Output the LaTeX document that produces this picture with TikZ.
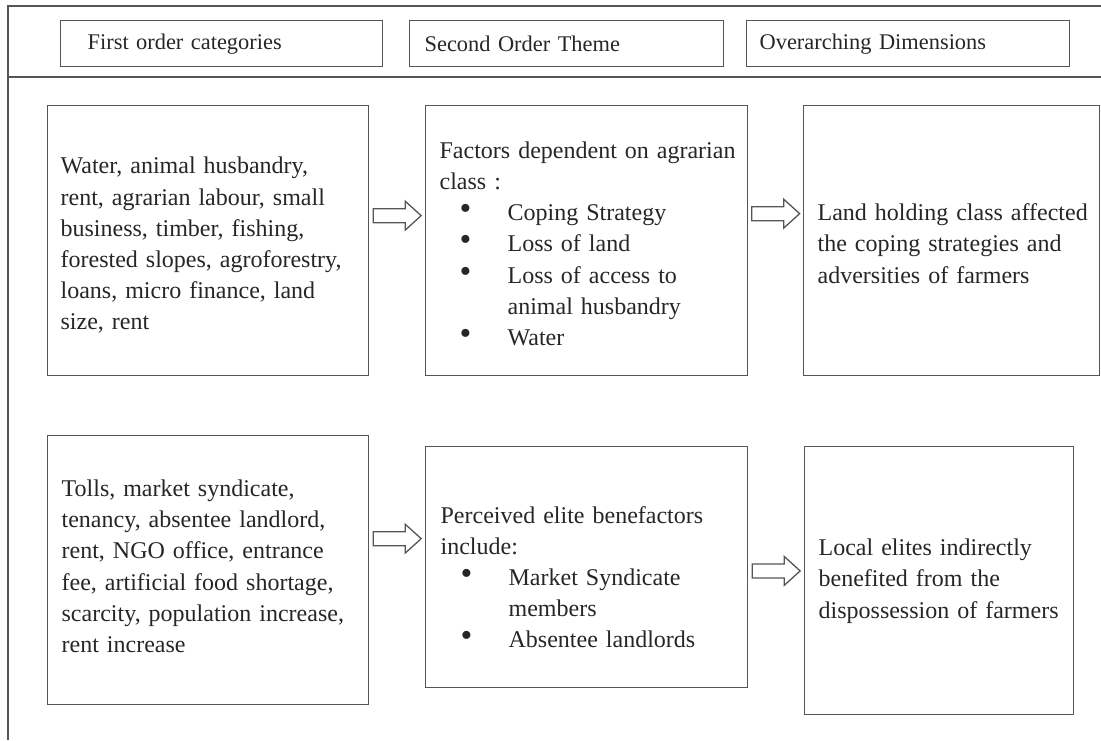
\documentclass[tikz,border=0pt]{standalone}
\usepackage{fontspec}
\usepackage{graphicx}
\setmainfont{Liberation Serif}
\usetikzlibrary{positioning,calc}

\definecolor{framegray}{HTML}{555555}
\definecolor{inkgray}{HTML}{262626}

\newcommand{\bodyfont}{\fontsize{24}{31.2}\selectfont}
\newcommand{\headfont}{\fontsize{22.4}{27}\selectfont}
% one bullet item, and the text block of a box (optionally moved up or down)
\newcommand{\itm}[1]{\hspace*{20pt}\makebox[48pt][l]{\raisebox{1pt}{\scalebox{1.4}{\textbullet}}}#1}
\newcommand{\lines}[2][0pt]{\raisebox{#1}[\height][\depth]{\begin{tabular}{@{}l@{}}#2\end{tabular}}}

\tikzset{
  frame/.style={draw=framegray, line width=1.3pt},
  cell/.style={frame, anchor=north west, align=left, inner ysep=0pt,
    text=inkgray, font=\bodyfont},
  headbox/.style={cell, minimum height=46, font=\headfont},
  hollow arrow/.pic={
    \draw[frame, fill=white, line join=miter]
      (-24,-7) -- (8,-7) -- (8,-14.5) -- (24,0) -- (8,14.5) -- (8,7) -- (-24,7) -- cycle;
  }
}

\begin{document}
\begin{tikzpicture}[x=1pt,y=-1pt]
  \useasboundingbox (0,0) rectangle (1101,740);

  % outer frame and header rule
  \draw[frame] (1101,6) -| (8,740);
  \draw[frame] (8,77) -- (1101,77);

  % column headings
  \node[headbox, minimum width=322, inner xsep=27, text width=268] (hfirst) at (60,20) {First order categories};
  \node[headbox, minimum width=314, inner xsep=15, text width=284] (hsecond) at (409,20) {Second Order Theme};
  \node[headbox, minimum width=323, inner xsep=13, text width=297] (hdims) at (746,20) {Overarching Dimensions};

  % first row
  \node[cell, minimum width=321, minimum height=270, inner xsep=13, text width=295] (water) at (47,105)
    {\lines[-5pt]{Water, animal husbandry,\\ rent, agrarian labour, small\\ business, timber, fishing,\\ forested slopes, agroforestry,\\ loans, micro finance, land\\ size, rent}};
  \node[cell, minimum width=322, minimum height=270, inner xsep=14, text width=294] (factors) at (425,105)
    {\lines[-5pt]{Factors dependent on agrarian\\ class :\\ \itm{Coping Strategy}\\ \itm{Loss of land}\\ \itm{Loss of access to}\\ \hspace*{68pt}animal husbandry\\ \itm{Water}}};
  \node[cell, minimum width=296, minimum height=270, inner xsep=14, text width=268] (landclass) at (803,105)
    {\lines[-5pt]{Land holding class affected\\ the coping strategies and\\ adversities of farmers}};

  % second row
  \node[cell, minimum width=321, minimum height=269, inner xsep=14, text width=293] (tolls) at (47,435)
    {\lines[2pt]{Tolls, market syndicate,\\ tenancy, absentee landlord,\\ rent, NGO office, entrance\\ fee, artificial food shortage,\\ scarcity, population increase,\\ rent increase}};
  \node[cell, minimum width=322, minimum height=241, inner xsep=15, text width=292] (benefactors) at (425,446)
    {\lines[-12pt]{Perceived elite benefactors\\ include:\\ \itm{Market Syndicate}\\ \hspace*{68pt}members\\ \itm{Absentee landlords}}};
  \node[cell, minimum width=269, minimum height=268, inner xsep=14, text width=241] (localelites) at (804,446)
    {\lines{Local elites indirectly\\ benefited from the\\ dispossession of farmers}};

  % arrows between the boxes
  \pic at ($(water.east)!.5!(factors.west)+(0,-25)$) {hollow arrow};
  \pic at ($(factors.east)!.5!(landclass.west)+(0,-27)$) {hollow arrow};
  \pic at ($(tolls.east)!.5!(benefactors.west)+(0,-30)$) {hollow arrow};
  \pic at ($(benefactors.east)!.5!(localelites.west)+(0,-3)$) {hollow arrow};
\end{tikzpicture}
\end{document}
